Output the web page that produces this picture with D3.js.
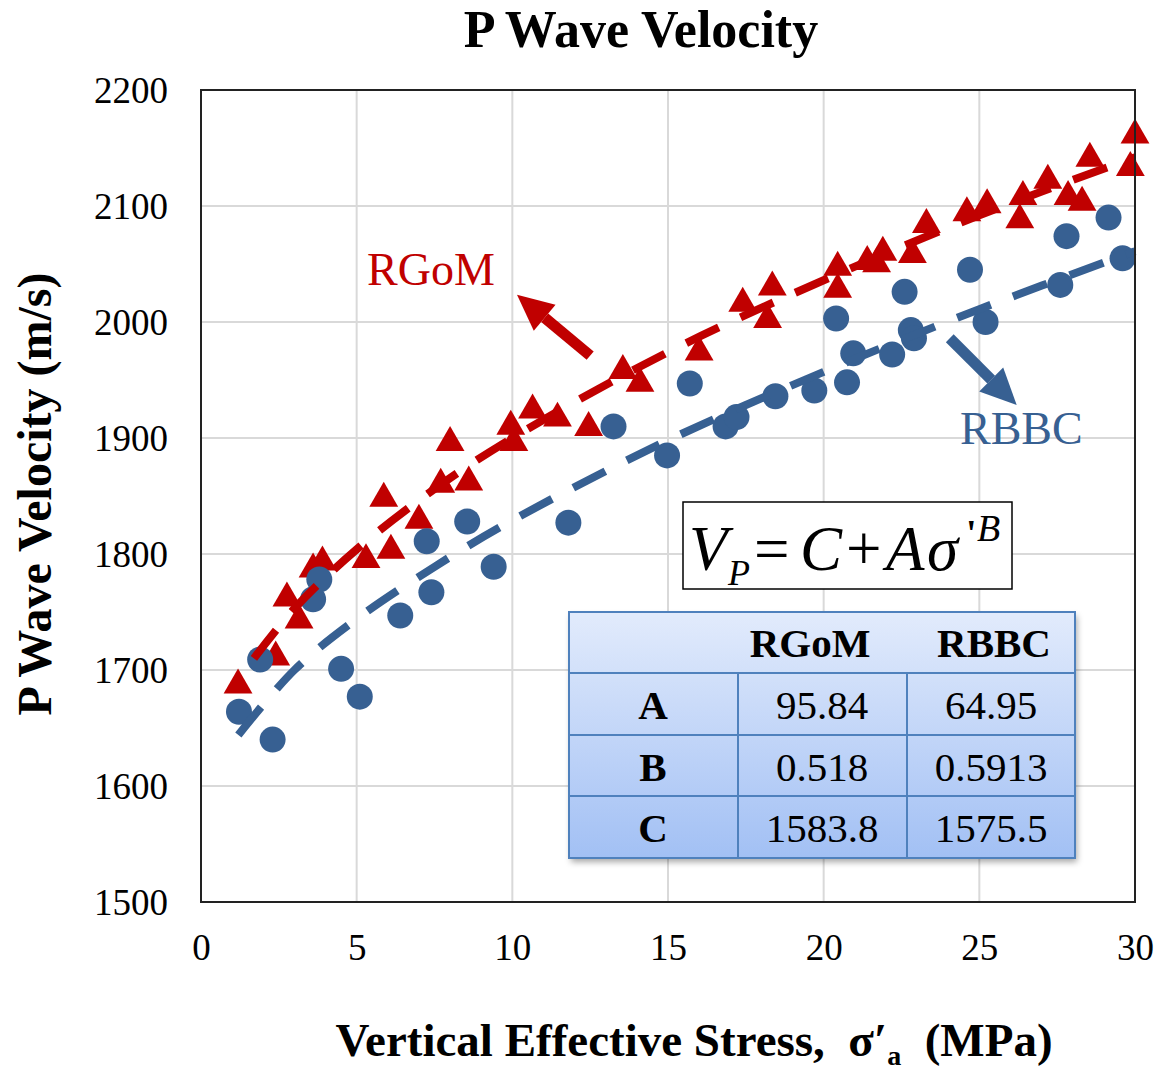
<!DOCTYPE html>
<html>
<head>
<meta charset="utf-8">
<script src="https://cdn.jsdelivr.net/npm/d3@7"></script>
<style>
  body { margin: 0; background: #fff; }
  svg { display: block; }
  text { font-family: "Liberation Serif", "Times New Roman", serif; }
</style>
</head>
<body>
<div id="chart"></div>
<script>
// RGoM samples (stress MPa, Vp m/s)
const rgomStress = [1.19, 2.4, 2.76, 3.15, 3.6, 3.9, 5.3, 5.87, 6.1, 7.0, 7.7, 8.0, 8.6, 9.95, 10.05,
  10.65, 11.45, 12.45, 13.55, 14.1, 16.0, 17.4, 18.2, 18.35, 20.45, 20.45, 21.4, 21.7, 21.9, 22.85,
  23.3, 24.6, 25.25, 26.3, 26.4, 27.2, 27.85, 28.3, 28.55, 29.85, 30.0];
const rgomVp = [1687, 1711, 1762, 1743, 1787, 1793, 1795, 1848, 1803, 1829, 1860, 1896, 1862, 1910, 1896,
  1924, 1917, 1909, 1958, 1947, 1974, 2016, 2002, 2030, 2047, 2028, 2052, 2050, 2060, 2058,
  2084, 2094, 2101, 2088, 2108, 2122, 2108, 2103, 2141, 2133, 2161];

// RBBC samples
const rbbcStress = [1.22, 1.9, 2.3, 3.6, 3.8, 4.5, 5.1, 6.4, 7.25, 7.4, 8.55, 9.4, 11.8, 13.25, 14.97,
  15.7, 16.85, 17.2, 18.45, 19.7, 20.4, 20.75, 20.95, 22.2, 22.6, 22.8, 22.9, 24.7, 25.2, 27.6,
  27.8, 29.15, 29.6];
const rbbcVp = [1664, 1709, 1640, 1761, 1778, 1701, 1677, 1747, 1811, 1767, 1828, 1789, 1827, 1910, 1885,
  1947, 1910, 1918, 1936, 1941, 2003, 1948, 1973, 1972, 2026, 1993, 1986, 2045, 2000, 2032,
  2074, 2090, 2055];

// trend lines
const rgomFitX = [1.7, 3, 5, 7.5, 10, 15, 20, 25, 30];
const rgomFitY = [1710, 1753, 1804, 1856, 1900, 1974, 2036, 2092, 2142];
const rbbcFitX = [1.2, 3, 5, 7.5, 10, 15, 20, 25, 30];
const rbbcFitY = [1644, 1700, 1744, 1789, 1829, 1898, 1957, 2011, 2061];

// fit parameter table
const paramNames = ["A", "B", "C"];
const rgomParams = ["95.84", "0.518", "1583.8"];
const rbbcParams = ["64.95", "0.5913", "1575.5"];

const xTicks = [0, 5, 10, 15, 20, 25, 30];
const yTicks = [1500, 1600, 1700, 1800, 1900, 2000, 2100, 2200];

const red = "#c00000", blue = "#376092";
const W = 1162, H = 1072;
const pl = 201, pr = 1135, pt = 90, pb = 902;
const serif = "Liberation Serif, Times New Roman, serif";

const svg = d3.select("#chart").append("svg")
  .attr("width", W).attr("height", H);

const defs = svg.append("defs");
const grad = defs.append("linearGradient").attr("id", "tblGrad")
  .attr("x1", 0).attr("y1", 0).attr("x2", 0).attr("y2", 1);
grad.append("stop").attr("offset", "0%").attr("stop-color", "#e2ebfc");
grad.append("stop").attr("offset", "100%").attr("stop-color", "#a2c0f4");
const shadow = defs.append("filter").attr("id", "shadow")
  .attr("x", "-5%").attr("y", "-5%").attr("width", "115%").attr("height", "120%");
shadow.append("feDropShadow").attr("dx", 2).attr("dy", 4).attr("stdDeviation", 3)
  .attr("flood-color", "#000").attr("flood-opacity", 0.35);

const x = d3.scaleLinear().domain([0, 30]).range([pl, pr]);
const y = d3.scaleLinear().domain([1500, 2200]).range([pb, pt]);

// grid
svg.append("g").selectAll("line").data(xTicks.slice(1, -1)).enter().append("line")
  .attr("x1", d => x(d)).attr("x2", d => x(d)).attr("y1", pt).attr("y2", pb)
  .attr("stroke", "#d9d9d9").attr("stroke-width", 2);
svg.append("g").selectAll("line").data(yTicks.slice(1, -1)).enter().append("line")
  .attr("x1", pl).attr("x2", pr).attr("y1", d => y(d)).attr("y2", d => y(d))
  .attr("stroke", "#d9d9d9").attr("stroke-width", 2);

// axes (labels only)
const yAxis = svg.append("g").attr("transform", `translate(${pl - 30},0)`)
  .call(d3.axisLeft(y).tickValues(yTicks).tickSize(0).tickFormat(d3.format("d")));
yAxis.select(".domain").remove();
yAxis.selectAll("text").attr("font-size", 37).attr("fill", "#000")
  .attr("font-family", serif).attr("dy", "0.33em");

const xAxis = svg.append("g").attr("transform", `translate(0,${pb + 30})`)
  .call(d3.axisBottom(x).tickValues(xTicks).tickSize(0));
xAxis.select(".domain").remove();
xAxis.selectAll("text").attr("font-size", 37).attr("fill", "#000")
  .attr("font-family", serif).attr("dy", "0.68em");

// markers
svg.append("g").selectAll("path").data(rgomStress).enter().append("path")
  .attr("d", d3.symbol(d3.symbolTriangle).size(360))
  .attr("transform", (d, i) => `translate(${x(d)},${y(rgomVp[i])})`)
  .attr("fill", red);
svg.append("g").selectAll("circle").data(rbbcStress).enter().append("circle")
  .attr("cx", d => x(d)).attr("cy", (d, i) => y(rbbcVp[i])).attr("r", 13)
  .attr("fill", blue);

// trend lines
const line = d3.line().x(d => x(d[0])).y(d => y(d[1])).curve(d3.curveCatmullRom);
svg.append("path").datum(rgomFitX.map((d, i) => [d, rgomFitY[i]]))
  .attr("d", line).attr("fill", "none").attr("stroke", red)
  .attr("stroke-width", 8).attr("stroke-dasharray", "36,24");
svg.append("path").datum(rbbcFitX.map((d, i) => [d, rbbcFitY[i]]))
  .attr("d", line).attr("fill", "none").attr("stroke", blue)
  .attr("stroke-width", 8).attr("stroke-dasharray", "36,24");

// plot border
svg.append("rect").attr("x", pl).attr("y", pt)
  .attr("width", pr - pl).attr("height", pb - pt)
  .attr("fill", "none").attr("stroke", "#222").attr("stroke-width", 2);

// arrows
function arrow(x0, y0, x1, y1, color) {
  const px0 = x(x0), py0 = y(y0), px1 = x(x1), py1 = y(y1);
  const ang = Math.atan2(py1 - py0, px1 - px0);
  const hl = 36, hw = 17;
  const bx = px1 - hl * Math.cos(ang), by = py1 - hl * Math.sin(ang);
  svg.append("line").attr("x1", px0).attr("y1", py0).attr("x2", bx).attr("y2", by)
    .attr("stroke", color).attr("stroke-width", 11);
  const nx = -Math.sin(ang), ny = Math.cos(ang);
  svg.append("path")
    .attr("d", `M${px1},${py1}L${bx + nx * hw},${by + ny * hw}L${bx - nx * hw},${by - ny * hw}Z`)
    .attr("fill", color);
}
arrow(12.5, 1971, 10.15, 2023.5, red);
arrow(24.05, 1986, 26.2, 1928.5, blue);

svg.append("text").attr("x", 367).attr("y", 285).attr("font-size", 46)
  .attr("fill", red).text("RGoM");
svg.append("text").attr("x", 960).attr("y", 444).attr("font-size", 46)
  .attr("fill", blue).text("RBBC");

// equation box
svg.append("rect").attr("x", 683).attr("y", 502).attr("width", 329).attr("height", 87)
  .attr("fill", "#fff").attr("stroke", "#000").attr("stroke-width", 1.5);
const eq = svg.append("text").attr("font-size", 63);
eq.append("tspan").attr("x", 689).attr("y", 570).attr("font-style", "italic").text("V");
eq.append("tspan").attr("x", 728).attr("y", 585).attr("font-size", 36).attr("font-style", "italic").text("P");
eq.append("tspan").attr("x", 754).attr("y", 570).text("=");
eq.append("tspan").attr("x", 800).attr("y", 570).attr("font-style", "italic").text("C");
eq.append("tspan").attr("x", 846).attr("y", 570).text("+");
eq.append("tspan").attr("x", 886).attr("y", 570).attr("font-style", "italic").text("A");
eq.append("tspan").attr("x", 927).attr("y", 570).attr("font-style", "italic").text("σ");
eq.append("tspan").attr("x", 966).attr("y", 546).attr("font-size", 38).attr("font-weight", "bold").text("'");
eq.append("tspan").attr("x", 977).attr("y", 541).attr("font-size", 38).attr("font-style", "italic").text("B");

// parameter table
const tx = [569, 738, 907, 1075];
const ty = [612, 673, 735, 796, 858];
const tbl = svg.append("g");
tbl.append("rect").attr("x", tx[0]).attr("y", ty[0])
  .attr("width", tx[3] - tx[0]).attr("height", ty[4] - ty[0])
  .attr("fill", "url(#tblGrad)").attr("filter", "url(#shadow)");
tbl.selectAll("line.r").data(ty.slice(1, -1)).enter().append("line").attr("class", "r")
  .attr("x1", tx[0]).attr("x2", tx[3]).attr("y1", d => d).attr("y2", d => d)
  .attr("stroke", "#4f81bd").attr("stroke-width", 2);
tbl.selectAll("line.c").data(tx.slice(1, -1)).enter().append("line").attr("class", "c")
  .attr("x1", d => d).attr("x2", d => d).attr("y1", ty[1]).attr("y2", ty[4])
  .attr("stroke", "#4f81bd").attr("stroke-width", 2);
tbl.append("rect").attr("x", tx[0]).attr("y", ty[0])
  .attr("width", tx[3] - tx[0]).attr("height", ty[4] - ty[0])
  .attr("fill", "none").attr("stroke", "#4f81bd").attr("stroke-width", 2);

const colC = [653, 822, 991];
tbl.append("text").attr("x", 810).attr("y", 657).attr("text-anchor", "middle")
  .attr("font-size", 41).attr("font-weight", "bold").text("RGoM");
tbl.append("text").attr("x", 994).attr("y", 657).attr("text-anchor", "middle")
  .attr("font-size", 41).attr("font-weight", "bold").text("RBBC");
paramNames.forEach((p, i) => {
  const by = (ty[i + 1] + ty[i + 2]) / 2 + 15;
  tbl.append("text").attr("x", colC[0]).attr("y", by).attr("text-anchor", "middle")
    .attr("font-size", 41).attr("font-weight", "bold").text(p);
  tbl.append("text").attr("x", colC[1]).attr("y", by).attr("text-anchor", "middle")
    .attr("font-size", 41).text(rgomParams[i]);
  tbl.append("text").attr("x", colC[2]).attr("y", by).attr("text-anchor", "middle")
    .attr("font-size", 41).text(rbbcParams[i]);
});

// titles
svg.append("text").attr("x", 641).attr("y", 47).attr("text-anchor", "middle")
  .attr("font-size", 52).attr("font-weight", "bold").text("P Wave Velocity");

svg.append("text").attr("transform", `translate(51,${(268 + 720) / 2}) rotate(-90)`)
  .attr("text-anchor", "middle").attr("font-size", 48).attr("font-weight", "bold")
  .text("P Wave Velocity (m/s)");

const xl = svg.append("text").attr("x", 694).attr("y", 1056).attr("text-anchor", "middle")
  .attr("font-size", 47).attr("font-weight", "bold");
xl.append("tspan").text("Vertical Effective Stress,\u00a0\u00a0σ′");
xl.append("tspan").attr("font-size", 28).attr("dy", 9).text("a");
xl.append("tspan").attr("dy", -9).text("\u00a0\u00a0(MPa)");
</script>
</body>
</html>
